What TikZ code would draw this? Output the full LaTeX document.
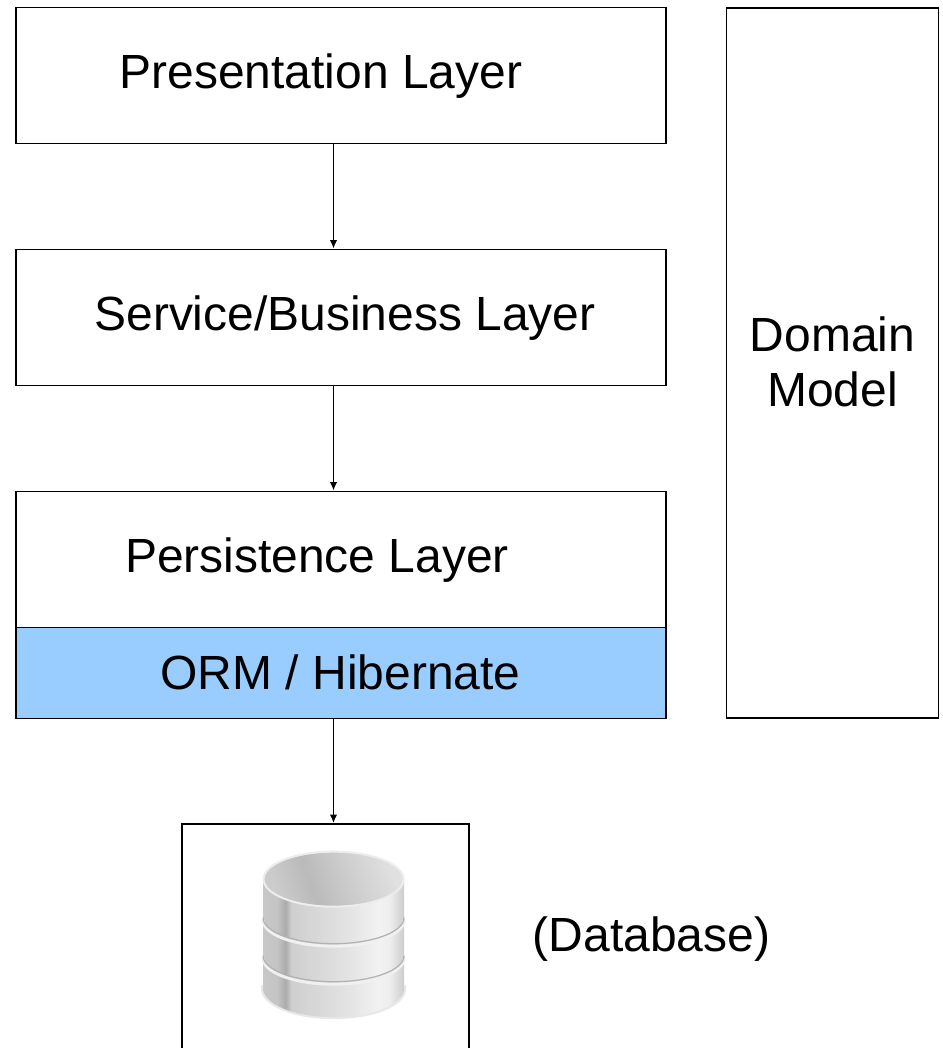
\documentclass[tikz,border=0pt]{standalone}
\usepackage{fontspec}
\setmainfont{Liberation Sans}
\usetikzlibrary{positioning, arrows.meta}

\pgfdeclarehorizontalshading{dbside}{100bp}{
	color(0bp)=(black!22); color(25bp)=(black!22); color(30bp)=(black!23);
	color(33bp)=(black!33); color(35bp)=(black!19); color(55bp)=(black!11);
	color(66bp)=(black!5); color(70bp)=(black!7); color(75bp)=(black!20);
	color(100bp)=(black!20)}
\pgfdeclarehorizontalshading{dbtop}{100bp}{
	color(0bp)=(black!20); color(25bp)=(black!20); color(40bp)=(black!27);
	color(60bp)=(black!18); color(75bp)=(black!12); color(100bp)=(black!12)}

\tikzset{
	layer/.style={draw, line width=0.036cm, minimum width=13cm, minimum height=2.72cm, inner sep=0pt},
	layertext/.style={font=\fontsize{27.3}{31}\selectfont, inner sep=0pt},
	flow/.style={->, >={Latex[length=0.17cm,width=0.15cm]}, line width=0.036cm}
}

\begin{document}
\begin{tikzpicture}
	[on grid, auto, node distance=4.84cm]
	\clip (0,0) rectangle (18.86,-20.96);
	\fill[white] (0,0) rectangle (18.86,-20.96);
	\coordinate (down) at (6.67,0);
	\node[layer] (presentation) at (6.82,-1.51) {};
	\node[layer] (service) [below=of presentation] {};
	\node[layer] (persistence) [below=of service] {};
	\node[layer, fill={rgb,255:red,153;green,204;blue,255}, minimum height=1.82cm] (orm) [below=2.27 of persistence] {};
	\node[draw, line width=0.036cm, minimum width=4.24cm, minimum height=14.2cm, inner sep=0pt] (domain) at (16.65,-7.26) {};
	\node[draw, line width=0.036cm, minimum width=5.74cm, minimum height=4.8cm, inner sep=0pt] (database) at (6.51,-18.88) {};

	\node[layertext] (presentation text) at (6.42,-1.52) {Presentation Layer};
	\node[layertext] (service text) at (6.9,-6.36) {Service/Business Layer};
	\node[layertext] (persistence text) at (6.34,-11.2) {Persistence Layer};
	\node[layertext] (orm text) at (6.81,-13.44) {ORM / Hibernate};
	\node[layertext, align=center] (domain text) at (16.65,-7.24) {Domain\\Model};
	\node[layertext] (database text) at (13.03,-18.78) {(Database)};

	\path[flow]
	(presentation.south -| down) edge (service.north -| down)
	(service.south -| down) edge (persistence.north -| down)
	(orm.south -| down) edge (database.north -| down);

	% cylinder
	\begin{scope}[x=0.02cm, y=-0.02cm]
		\fill[black!9] (261,985) -- (261,989) arc[start angle=180, end angle=0, x radius=72.5, y radius=30] -- (406,985) -- cycle;
		\shade[shading=dbside] (263,879) -- (263,988) arc[start angle=180, end angle=0, x radius=70.5, y radius=29] -- (404,879) -- cycle;
		\draw[black!6, line width=0.06cm] (263,920) arc[start angle=180, end angle=0, x radius=70.5, y radius=26];
		\draw[black!6, line width=0.06cm] (263,958) arc[start angle=180, end angle=0, x radius=70.5, y radius=26];
		\draw[black!30, line width=0.025cm] (263,917.5) arc[start angle=180, end angle=0, x radius=70.5, y radius=26];
		\draw[black!30, line width=0.025cm] (263,955.5) arc[start angle=180, end angle=0, x radius=70.5, y radius=26];
		\shade[shading=dbtop, shading angle=20, draw=black!7, line width=0.04cm] (333.5,879) ellipse[x radius=70, y radius=27.5];
	\end{scope}
\end{tikzpicture}
\end{document}
